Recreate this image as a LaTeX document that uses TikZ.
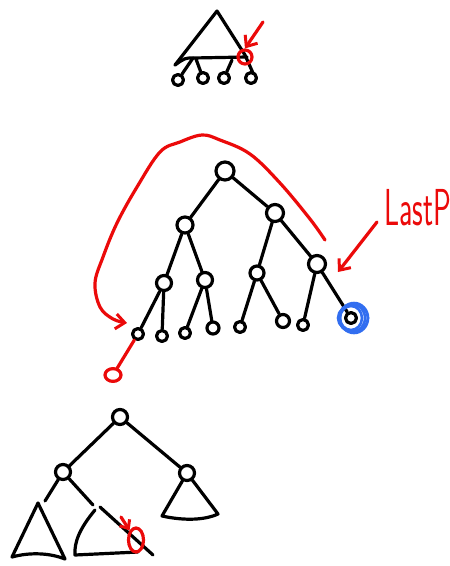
\documentclass[tikz,border=0pt]{standalone}
\usepackage{fontspec}
\usetikzlibrary{arrows.meta,shapes.geometric}
\definecolor{pen}{RGB}{235,10,10}
\definecolor{mark}{RGB}{50,110,240}
\tikzset{
  ink/.style={line width=3.2pt, line cap=round, line join=round},
  knot/.style={circle, draw, ink, minimum size=16pt, inner sep=0pt},
  twig/.style={circle, draw, ink, minimum size=11pt, inner sep=0pt},
  redink/.style={ink, draw=pen},
  barb/.style={-{Straight Barb[length=9pt,width=15pt,line width=3pt]}},
}
\begin{document}
\begin{tikzpicture}[x=1pt,y=-1pt]
\useasboundingbox (0,0) rectangle (450,566);

% ---------- small tree at the top ----------
\coordinate (tA) at (217,11);
\coordinate (tL) at (175,65);
\coordinate (tB1) at (193,58);
\coordinate (tR) at (247,57);
\draw[ink] (tL) -- (tA) -- (245,55) -- (253,73);
\draw[ink] (tL) .. controls (185,58) .. (tB1) -- (tR);
\node[twig] (t1) at (178,80) {};
\node[twig] (t2) at (203,78) {};
\node[twig] (t3) at (224,78) {};
\node[twig] (t4) at (251,78) {};
\draw[ink] (tB1) -- (t1);
\draw[ink] (196,59) -- (t2);
\draw[ink] (232,60) -- (t3);
\node[circle, draw=pen, ink, minimum size=14pt, inner sep=0pt] (tc) at (245,57) {};
\coordinate (tArrow) at (263,22);
\draw[redink, barb] (tArrow) -- (tc.north);

% ---------- full tree in the middle ----------
\node[knot, minimum size=18pt] (r) at (225,171) {};
\node[knot] (a) at (185,225) {};
\node[knot, minimum size=17pt] (b) at (275,213) {};
\node[knot, minimum size=15pt] (a1) at (164,283) {};
\node[knot, minimum size=15pt] (a2) at (205,280) {};
\node[knot, minimum size=14pt] (b1) at (257,273) {};
\node[knot, minimum size=17pt] (b2) at (317,264) {};
\node[twig] (l1) at (138,334) {};
\node[twig] (l2) at (162,336) {};
\node[twig] (l3) at (185,333) {};
\node[twig, minimum size=12pt] (l4) at (213,328) {};
\node[twig] (l5) at (240,327) {};
\node[twig, minimum size=13pt] (l6) at (283,321) {};
\node[twig] (l7) at (303,325) {};
\node[twig] (l8) at (351,318) {};
\foreach \p/\c in {r/a, r/b, a/a1, a/a2, b/b1, b/b2, a1/l1, a1/l2, a2/l3, a2/l4, b1/l5, b1/l6, b2/l7, b2/l8}
  \draw[ink] (\p) -- (\c);

% the last leaf, ringed in blue
\foreach \rx/\ry/\dx in {13/14/1, 15/13/2, 11/12/0, 14/15/3}
  \draw[line width=2.6pt, draw=mark] ([xshift=\dx pt]l8.center) ellipse [x radius=\rx pt, y radius=\ry pt];

% red sweep from the last parent round to the left
\coordinate (sweepStart) at (325,240);
\coordinate (sweepEnd) at (127,323);
\draw[redink, barb] plot[smooth, tension=0.6] coordinates {
  (sweepStart) (310,219) (280,183) (250,154) (220,140) (202,135) (180,142)
  (160,152) (137,187) (117,223) (103,257) (95,283) (100,307) (113,319) (sweepEnd)};

% new child hanging below the first leaf
\node[circle, draw=pen, ink, minimum size=16pt, inner sep=0pt, yscale=0.8] (nc) at (113,375) {};
\draw[redink] (l1) -- (nc);

% LastP label and its arrow
\node[text=pen, font=\sffamily\fontsize{52}{52}\selectfont, xscale=0.57, inner sep=0pt, anchor=base west] (lp) at (384,225) {LastP};
\coordinate (lpTail) at (377,222);
\coordinate (lpTip) at (338,272);
\draw[redink, barb] (lpTail) -- (lpTip);

% ---------- tree drawn with subtree triangles ----------
\node[knot, minimum size=15pt] (R) at (120,417) {};
\node[knot, minimum size=15pt] (L) at (63,472) {};
\node[knot, minimum size=15pt] (Rr) at (187,473) {};
\draw[ink] (R) -- (L);
\draw[ink] (R) -- (Rr);
% left subtree
\coordinate (t1a) at (38,503);
\draw[ink] (L) -- (45,501);
\draw[ink] (t1a) -- (12,557) .. controls (30,552) and (50,553) .. (65,559) -- cycle;
% middle subtree
\draw[ink] (L) -- (93,505);
\draw[ink] (100,507) -- (153,555);
\draw[ink] (95,510) .. controls (80,528) and (74,542) .. (75,555) -- (138,552);
% right subtree
\draw[ink] (Rr) -- (162,516) .. controls (185,521) and (205,520) .. (218,514) -- (Rr);
% spot where the new node goes
\node[ellipse, draw=pen, ink, minimum width=15pt, minimum height=24pt, inner sep=0pt] (spot) at (136,540) {};
\coordinate (spotTail) at (121,517);
\draw[redink, -{Straight Barb[length=7pt,width=12pt,line width=3pt]}] (spotTail) -- (spot.north west);
\end{tikzpicture}
\end{document}
